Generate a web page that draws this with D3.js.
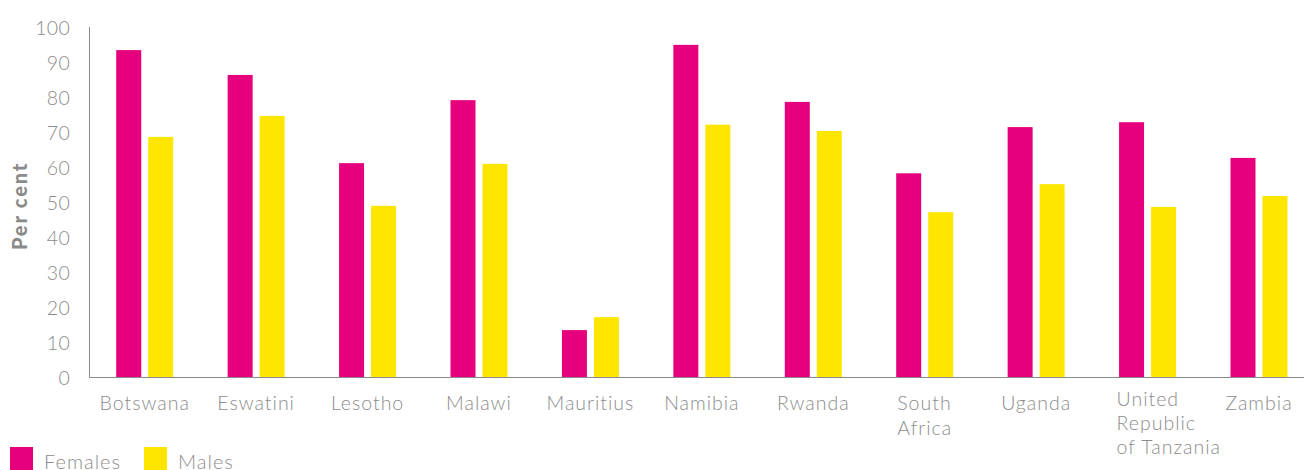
<!DOCTYPE html>
<html><head><meta charset="utf-8">
<script src="https://cdn.jsdelivr.net/npm/d3@7"></script>
<style>
html,body{margin:0;padding:0;background:#fff;overflow:hidden;}
text{font-family:Lato,"Open Sans",sans-serif;}
</style></head>
<body>
<svg id="chart" width="1304" height="470"></svg>
<script>
const categories = ["Botswana","Eswatini","Lesotho","Malawi","Mauritius","Namibia","Rwanda","South\nAfrica","Uganda","United\nRepublic\nof Tanzania","Zambia"];
const seriesNames = ["Females","Males"];
const females = [93.4, 86.3, 61.1, 79.1, 13.4, 94.9, 78.6, 58.2, 71.4, 72.8, 62.6];
const males   = [68.6, 74.6, 48.9, 60.9, 17.1, 72.1, 70.3, 47.1, 55.1, 48.6, 51.7];
const yTicks = [0,10,20,30,40,50,60,70,80,90,100];
const colors = ["#E6007E","#FFE600"];

const svg = d3.select("#chart");
const x0 = 89, x1 = 1314.7, yTop = 27, yBot = 377;
const x = d3.scaleBand().domain(categories).range([x0, x1]).paddingInner(0).paddingOuter(0);
const y = d3.scaleLinear().domain([0,100]).range([yBot, yTop]);
const barW = 25, gap = 7;
const textCol = "#8c8c8c";

// y axis labels
const yAxis = d3.axisLeft(y).tickValues(yTicks).tickSize(0).tickPadding(19).tickFormat(d3.format("d"));
const gy = svg.append("g").attr("transform", `translate(${x0},0)`).call(yAxis);
gy.select(".domain").remove();
gy.selectAll("text").attr("fill", textCol).style("font-size","19.5px").style("font-weight","300").style("letter-spacing","0.3px").attr("dy","0.36em");
svg.append("line").attr("x1", x0+0.5).attr("x2", x0+0.5).attr("y1", y(100)).attr("y2", yBot).attr("stroke","#8a8a8a").attr("stroke-width",1);

// bars
const data = categories.map((c,i)=>({c, vals:[females[i], males[i]]}));
const g = svg.append("g");
data.forEach(d=>{
  const cx = x(d.c) + x.bandwidth()/2;
  d.vals.forEach((v,j)=>{
    const bx = j===0 ? cx - gap/2 - barW : cx + gap/2;
    g.append("rect").attr("x", bx).attr("y", y(v)).attr("width", barW).attr("height", yBot - y(v)).attr("fill", colors[j]);
  });
});

// x axis line
svg.append("line").attr("x1", x0).attr("x2", 1304).attr("y1", yBot+0.5).attr("y2", yBot+0.5).attr("stroke","#8a8a8a").attr("stroke-width",1);

// category labels
const xl = svg.append("g");
categories.forEach((c,i)=>{
  const cx = x(c) + x.bandwidth()/2;
  const lines = c.split("\n");
  const t = xl.append("text").attr("fill", textCol).style("font-size","19.5px").style("font-weight","300").style("letter-spacing","1px");
  if (lines.length === 1) {
    t.attr("x", cx).attr("y", 410).attr("text-anchor","middle").text(c);
  } else {
    const baseY = lines.length === 3 ? 406 : 410;
    const lh = lines.length === 3 ? 24 : 25;
    lines.forEach((l,k)=>{
      t.append("tspan").attr("x", 0).attr("y", baseY + k*lh).text(l);
    });
    let w = 0;
    t.selectAll("tspan").each(function(){ w = Math.max(w, this.getComputedTextLength()); });
    const start = cx - Math.min(w, 62)/2;
    t.selectAll("tspan").attr("x", start);
  }
});

// y title
svg.append("text").attr("transform","translate(27,206) rotate(-90)").attr("text-anchor","middle")
  .attr("fill","#8a8a8a").style("font-size","20px").style("font-weight","900").style("letter-spacing","1.8px").text("Per cent");

// legend
const leg = svg.append("g");
const legX = [10, 144];
seriesNames.forEach((s,i)=>{
  leg.append("rect").attr("x", legX[i]).attr("y", 447).attr("width", 23).attr("height", 23).attr("fill", colors[i]);
  leg.append("text").attr("x", legX[i]+34).attr("y", 469).attr("fill", textCol).style("font-size","20px").style("font-weight","300").style("letter-spacing","1px").text(s);
});
</script>
</body></html>
